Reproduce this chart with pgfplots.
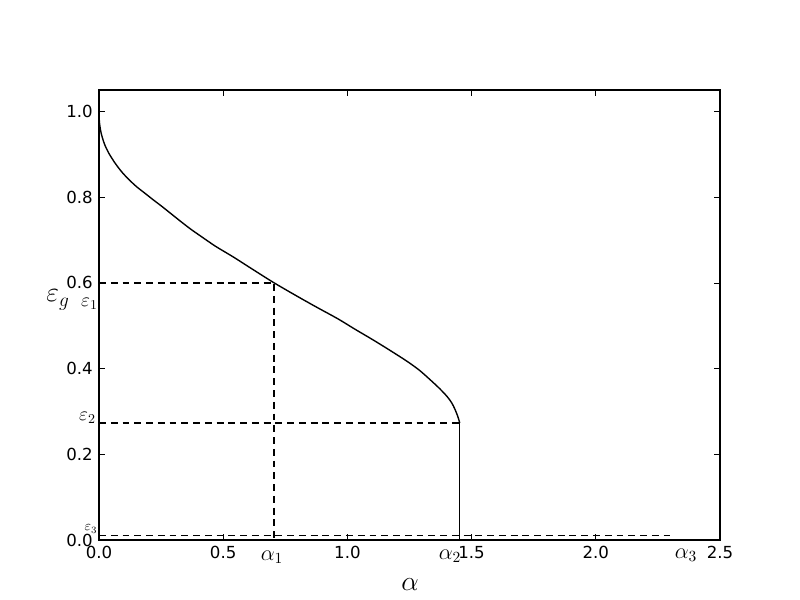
\documentclass[border=0pt]{standalone}
\usepackage{fix-cm}
\usepackage{fontspec}
\setmainfont{DejaVu Sans}
\usepackage{pgfplots}
\pgfplotsset{compat=1.18}

\begin{document}
\begin{tikzpicture}
\path[use as bounding box] (0in,0in) rectangle (8in,6in);
\begin{axis}[
    at={(0.99in,0.6in)}, anchor=south west,
    scale only axis,
    width=6.21in, height=4.5in,
    xmin=0, xmax=2.5, ymin=0, ymax=1.05,
    xtick={0,0.5,1,1.5,2,2.5},
    ytick={0,0.2,0.4,0.6,0.8,1.0},
    tick align=inside,
    major tick length=4pt,
    tick style={black, line width=0.5pt},
    axis line style={line width=0.8pt},
    ticklabel style={font=\fontsize{12}{14}\selectfont},
    xticklabel style={yshift=-1pt},
    yticklabel style={xshift=-1pt},
    /pgf/number format/assume math mode=true,
    /pgf/number format/.cd, fixed, fixed zerofill, precision=1,
]

% generalisation error curve
\addplot[black, line width=1pt, smooth, tension=0.5] coordinates {
    (0,1.000) (0.001,0.981) (0.003,0.968) (0.008,0.951) (0.015,0.936)
    (0.024,0.921) (0.040,0.902) (0.064,0.880) (0.090,0.860) (0.117,0.843)
    (0.150,0.825) (0.185,0.809) (0.220,0.793) (0.254,0.778) (0.295,0.759)
    (0.334,0.741) (0.370,0.725) (0.407,0.710) (0.470,0.685) (0.539,0.661)
    (0.620,0.631) (0.705,0.600) (0.800,0.568) (0.880,0.542) (0.962,0.516)
    (1.030,0.492) (1.103,0.467) (1.170,0.443) (1.240,0.417) (1.290,0.396)
    (1.333,0.374) (1.370,0.354) (1.401,0.335) (1.420,0.320) (1.433,0.305)
    (1.442,0.292) (1.448,0.282) (1.452,0.273)
};
\addplot[black, line width=1pt] coordinates {(1.452,0.273) (1.452,0) (2.5,0)};

% guide lines
\addplot[black, line width=1pt, dash pattern=on 5pt off 3.5pt] coordinates {(0,0.6) (0.705,0.6) (0.705,0)};
\addplot[black, line width=1pt, dash pattern=on 5pt off 3.5pt] coordinates {(0,0.273) (1.452,0.273) (1.452,0)};
\addplot[black, line width=1pt, dash pattern=on 5pt off 3.5pt] coordinates {(0,0.01) (2.32,0.01)};
\end{axis}

% labels
\node at (4.10in,0.15in) {\fontsize{20}{24}\selectfont $\alpha$};
\node at (0.58in,3.00in) {\fontsize{20}{24}\selectfont $\varepsilon_g$};
\node at (0.895in,2.96in) {\fontsize{14}{17}\selectfont $\varepsilon_1$};
\node at (0.875in,1.82in) {\fontsize{14}{17}\selectfont $\varepsilon_2$};
\node at (0.91in,0.71in) {\fontsize{10}{12}\selectfont $\varepsilon_3$};
\node at (2.72in,0.43in) {\fontsize{16}{19}\selectfont $\alpha_1$};
\node at (4.50in,0.44in) {\fontsize{16}{19}\selectfont $\alpha_2$};
\node at (6.86in,0.45in) {\fontsize{16}{19}\selectfont $\alpha_3$};
\end{tikzpicture}
\end{document}
